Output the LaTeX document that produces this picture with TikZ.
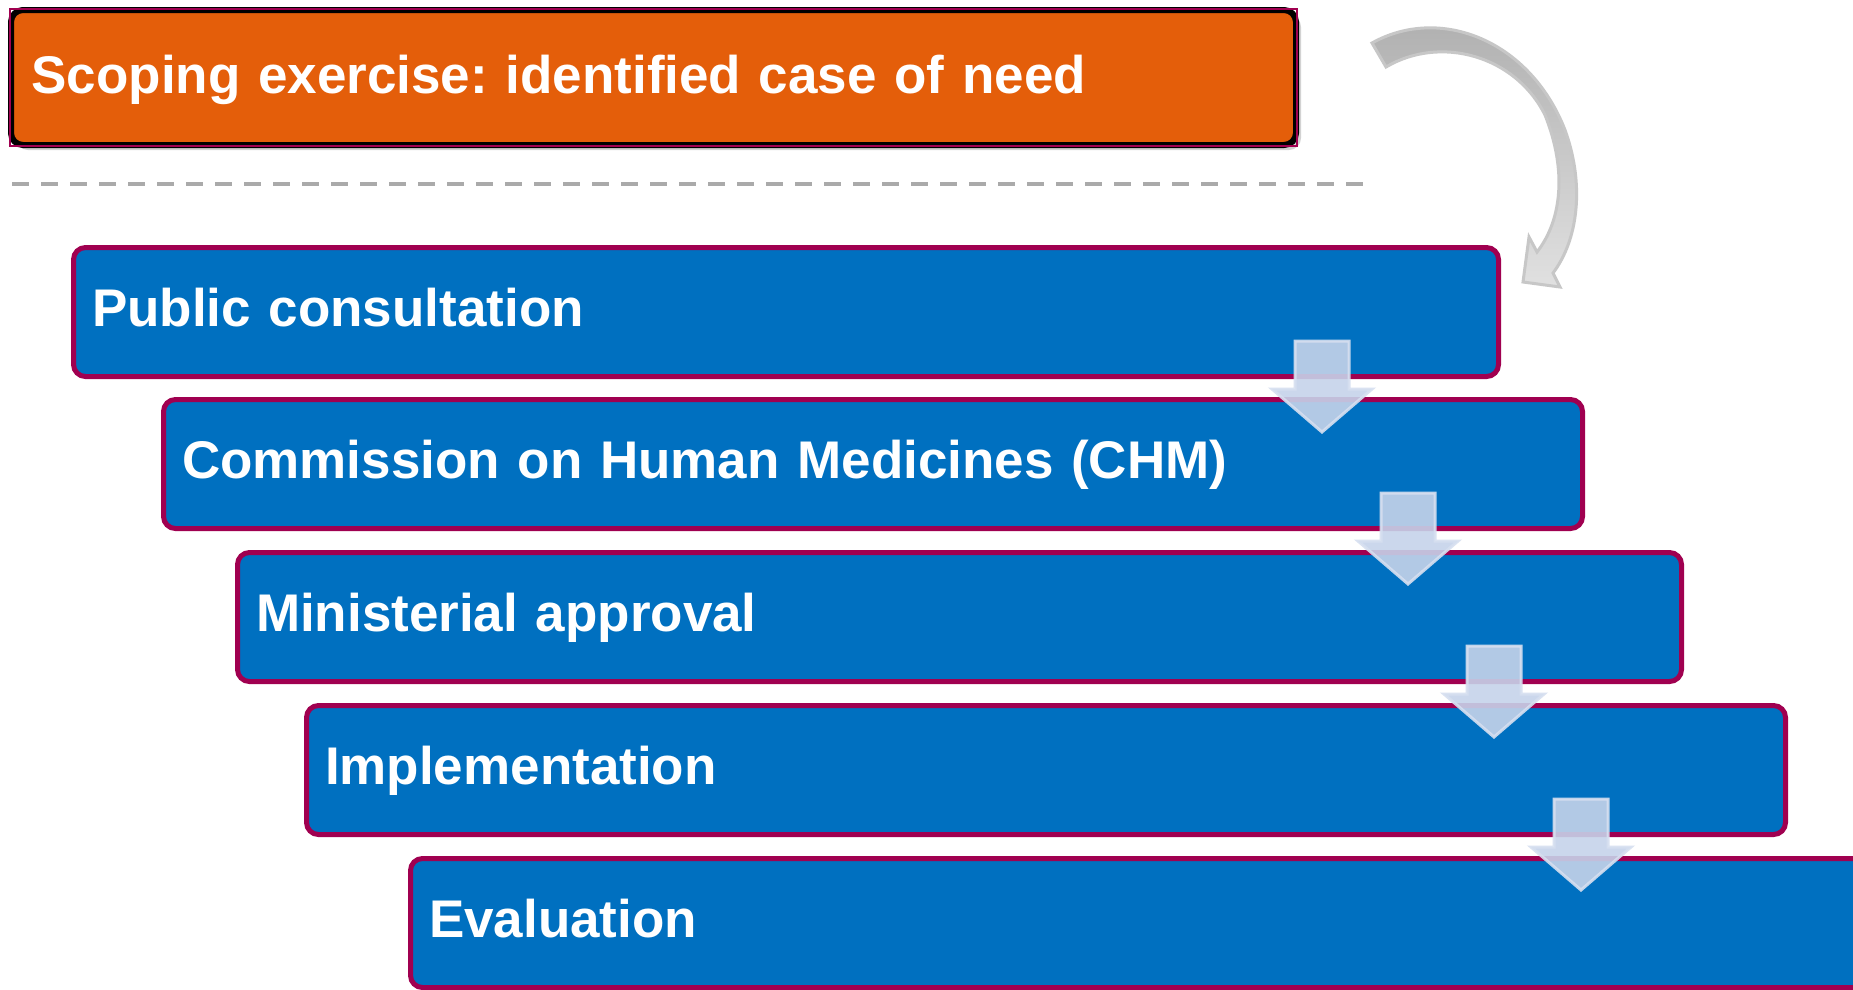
\documentclass[tikz,border=0pt]{standalone}
\usepackage{fontspec}
\setmainfont{Liberation Sans}
\usetikzlibrary{shadows}
\frenchspacing
\definecolor{stageblue}{RGB}{0,112,192}
\definecolor{stageedge}{RGB}{160,0,80}
\definecolor{scopeorange}{RGB}{228,94,10}
\definecolor{flowfill}{RGB}{198,211,234}
\definecolor{flowedge}{RGB}{214,223,240}
\definecolor{rulegray}{RGB}{170,170,170}
\tikzset{
  stage/.style={draw=stageedge, line width=5pt, fill=stageblue, rounded corners=12pt,
    anchor=north west, outer sep=0pt, text=white, align=left, text width=#1, minimum height=129pt,
    inner xsep=18.5pt, text height=44pt, text depth=16pt,
    font=\bfseries\fontsize{53}{60}\selectfont},
  scopebox/.style={draw=black, line width=6pt, fill=scopeorange, rounded corners=12pt,
    anchor=north west, outer sep=0pt, text=white, align=left, text width=1244pt, minimum height=135pt,
    inner xsep=20.5pt, text height=44pt, text depth=12pt,
    font=\bfseries\fontsize{53}{60}\selectfont,
    drop shadow={shadow xshift=5pt, shadow yshift=-5pt, opacity=0.35}},
  flowarrow/.style={fill=flowfill, draw=flowedge, line width=3pt, fill opacity=0.9, draw opacity=0.9},
  bendarrow/.style={top color=black!32, bottom color=black!12, draw=black!22, line width=3pt}
}
\begin{document}
\begin{tikzpicture}[x=1pt, y=-1pt]
    \fill[white] (0,0) rectangle (1853,989);
    \useasboundingbox (0,0) rectangle (1853,989);
    % case of need
    \node[scopebox] (scoping) at (11,10) {Scoping exercise: identified case of need};
    \draw[stageedge, line width=1.5pt] ([shift={(-1,-1)}]scoping.north west) rectangle ([shift={(1,1)}]scoping.south east);
    \draw[rulegray, line width=4pt, dash pattern=on 17pt off 12pt] (12,184) -- (1368,184);
    % stages
    \node[stage=1388pt] (consult) at (73.5,247.5) {Public consultation};
    \node[stage=1382pt] (chm) at (163.5,399.5) {Commission on Human Medicines (CHM)};
    \node[stage=1407pt] (minister) at (237.5,552.5) {Ministerial approval};
    \node[stage=1442pt] (implement) at (306.5,705.5) {Implementation};
    \node[stage=1473pt] (evaluate) at (410.5,858.5) {Evaluation};
    % block arrows between the stages
    \foreach \up/\cx in {consult/1322, chm/1408, minister/1494, implement/1581}
      \draw[flowarrow] (\cx,0 |- \up.south) ++(-27,-35.5) -- ++(54,0) -- ++(0,48) -- ++(23,0)
        -- ++(-50,43) -- ++(-50,-43) -- ++(23,0) -- cycle;
    % curved arrow into the first stage
    \draw[bendarrow] (1372,43) .. controls (1440,5) and (1530,40) .. (1565,130)
      .. controls (1585,185) and (1578,240) .. (1553,273) -- (1560,287) -- (1523,282)
      -- (1529,237) -- (1537,252) .. controls (1562,220) and (1567,170) .. (1545,115)
      .. controls (1515,55) and (1440,35) .. (1386,67) -- cycle;
\end{tikzpicture}
\end{document}
